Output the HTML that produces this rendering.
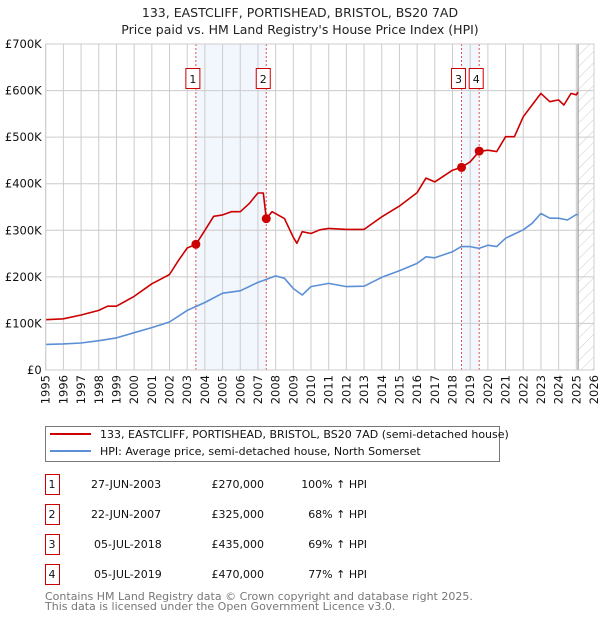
<!DOCTYPE html>
<html><head><meta charset="utf-8"><style>
body{margin:0;background:#fff;font-family:"DejaVu Sans","Liberation Sans",sans-serif;}
svg text{font-family:"DejaVu Sans","Liberation Sans",sans-serif;}
</style></head><body>
<svg id="c" width="600" height="620" xmlns="http://www.w3.org/2000/svg">
<defs><pattern id="hatch" patternUnits="userSpaceOnUse" width="8" height="8" patternTransform="rotate(45)"><line x1="0" y1="0" x2="0" y2="8" stroke="#ccc" stroke-width="1"/></pattern></defs>
<text x="300" y="17" text-anchor="middle" font-size="12.5" fill="#222">133, EASTCLIFF, PORTISHEAD, BRISTOL, BS20 7AD</text>
<text x="300" y="34" text-anchor="middle" font-size="12.5" fill="#222">Price paid vs. HM Land Registry's House Price Index (HPI)</text>
<g id="plot"></g>
<g>
<rect x="45.5" y="426.5" width="454" height="35" fill="#fff" stroke="#777"/>
<line x1="50" y1="434" x2="91" y2="434" stroke="#cc0000" stroke-width="2"/>
<text x="100" y="438" font-size="11" fill="#111">133, EASTCLIFF, PORTISHEAD, BRISTOL, BS20 7AD (semi-detached house)</text>
<line x1="50" y1="451" x2="91" y2="451" stroke="#5b8fd6" stroke-width="2"/>
<text x="100" y="455" font-size="11" fill="#111">HPI: Average price, semi-detached house, North Somerset</text>
</g>
<g id="table"></g>
<text x="45" y="600" font-size="11" fill="#777">Contains HM Land Registry data © Crown copyright and database right 2025.</text>
<text x="45" y="610" font-size="11" fill="#777">This data is licensed under the Open Government Licence v3.0.</text>
</svg>
<script>
const hpiYears=[1995,1996,1997,1998,1999,2000,2001,2002,2003,2004,2005,2006,2007,2007.5,2008,2008.5,2009,2009.5,2010,2011,2012,2013,2014,2015,2016,2016.5,2017,2018,2018.5,2019,2019.5,2020,2020.5,2021,2022,2022.5,2023,2023.5,2024,2024.5,2025,2025.1];
const hpiValues=[55,56,58,63,69,80,91,103,128,145,165,170,188,195,202,197,175,161,179,186,179,180,199,213,229,243,241,254,265,265,261,268,265,283,301,315,336,326,326,322,334,333];
const redYears=[1995,1996,1997,1998,1998.5,1999,2000,2001,2001.5,2002,2002.5,2003,2003.5,2004,2004.5,2005,2005.5,2006,2006.5,2007,2007.3,2007.47,2007.8,2008.5,2009,2009.2,2009.5,2010,2010.5,2011,2012,2013,2014,2015,2016,2016.5,2017,2018,2018.5,2019,2019.5,2020,2020.5,2021,2021.5,2022,2022.5,2023,2023.5,2024,2024.3,2024.7,2025,2025.1];
const redValues=[108,110,118,128,137,137,158,185,195,205,235,262,270,300,330,333,340,340,357,380,380,325,340,325,285,272,297,293,301,304,302,302,329,352,381,412,404,429,435,447,469,472,469,501,501,544,569,594,576,580,569,594,591,597];
const saleLabels=["1","2","3","4"];
const saleYears=[2003.49,2007.47,2018.51,2019.51];
const salePrices=[270,325,435,470];
const saleDates=["27-JUN-2003","22-JUN-2007","05-JUL-2018","05-JUL-2019"];
const salePriceText=["£270,000","£325,000","£435,000","£470,000"];
const saleHpiText=["100% ↑ HPI","68% ↑ HPI","69% ↑ HPI","77% ↑ HPI"];
const yTicks=[0,100,200,300,400,500,600,700];
const yTickLabels=["£0","£100K","£200K","£300K","£400K","£500K","£600K","£700K"];
const xTicks=[1995,1996,1997,1998,1999,2000,2001,2002,2003,2004,2005,2006,2007,2008,2009,2010,2011,2012,2013,2014,2015,2016,2017,2018,2019,2020,2021,2022,2023,2024,2025,2026];
const dataEnd=2025.1;

const X0=45.7,X1=594,Y0=370,Y1=44;
const xs=y=>X0+(y-1995)/(2026-1995)*(X1-X0);
const ys=v=>Y0-v/700*(Y0-Y1);
const NS="http://www.w3.org/2000/svg";
const g=document.getElementById('plot');
function mk(t,a,p){const e=document.createElementNS(NS,t);for(const k in a)e.setAttribute(k,a[k]);(p||g).appendChild(e);return e;}
for(const [a,b] of [[0,1],[2,3]]){
 const r=mk('rect',{x:xs(saleYears[a]),y:Y1,width:xs(saleYears[b])-xs(saleYears[a]),height:Y0-Y1,fill:'#f2f6fd'});
 
 
}
const hr=mk('rect',{x:xs(dataEnd),y:Y1,width:X1-xs(dataEnd),height:Y0-Y1,fill:'url(#hatch)'});


for(let i=0;i<xTicks.length;i++){
 const x=xs(xTicks[i]);
 const l=mk('line',{x1:x,y1:Y1,x2:x,y2:Y0,stroke:'#ccc','stroke-width':1});
 
 
 const t=mk('text',{x:0,y:0,transform:`translate(${x+4},${Y0+5}) rotate(-90)`,'text-anchor':'end','font-size':11.5,fill:'#111'});
 t.textContent=xTicks[i];
 
 
}
for(let i=0;i<yTicks.length;i++){
 const y=ys(yTicks[i]);
 const l=mk('line',{x1:X0,y1:y,x2:X1,y2:y,stroke:'#ccc','stroke-width':1});
 
 
 const t=mk('text',{x:X0-4,y:y+4,'text-anchor':'end','font-size':11.5,fill:'#111'});
 t.textContent=yTickLabels[i];
 
 
}
const bl=mk('line',{x1:xs(dataEnd),y1:Y1,x2:xs(dataEnd),y2:Y0,stroke:'#999','stroke-width':1.2});


for(let i=0;i<saleYears.length;i++){
 const x=xs(saleYears[i]);
 const l=mk('line',{x1:x,y1:Y1,x2:x,y2:Y0,stroke:'#e05050','stroke-width':1,'stroke-dasharray':'2,2'});
 
 
 const r=mk('rect',{x:x-10,y:68.5,width:14,height:20,fill:'#fff',stroke:'#cc0000'});
 
 
 const t=mk('text',{x:x-3,y:83,'text-anchor':'middle','font-size':11,fill:'#111'});
 t.textContent=saleLabels[i];
 
 
}
const path=(xa,va)=>xa.map((y,i)=>(i?'L':'M')+xs(y).toFixed(1)+','+ys(va[i]).toFixed(1)).join('');
const hp=mk('path',{d:path(hpiYears,hpiValues),fill:'none',stroke:'#5b8fd6','stroke-width':1.6,'stroke-linejoin':'round'});


const rp=mk('path',{d:path(redYears,redValues),fill:'none',stroke:'#cc0000','stroke-width':1.6,'stroke-linejoin':'round'});


for(let i=0;i<saleYears.length;i++){
 const c=mk('circle',{cx:xs(saleYears[i]),cy:ys(salePrices[i]),r:4.5,fill:'#cc0000'});
 
 
}
const ax=mk('rect',{x:X0,y:Y1,width:X1-X0,height:Y0-Y1,fill:'none',stroke:'#ccc'});


const tb=document.getElementById('table');
for(let i=0;i<4;i++){
 const y=483+i*30;
 const r=mk('rect',{x:45.5,y:y-8.5,width:14,height:20,fill:'#fff',stroke:'#cc0000'},tb);
 
 
 const cells=[[52,saleLabels[i],'middle'],[i<2?91:94,saleDates[i],'start'],[264,salePriceText[i],'end'],[367,saleHpiText[i],'end']];
 for(const [x,s,a] of cells){
  const t=mk('text',{x:x,y:y+5,'text-anchor':a,'font-size':11,fill:'#111'},tb);
  t.textContent=s;
  
  
 }
}
</script>
</body></html>
